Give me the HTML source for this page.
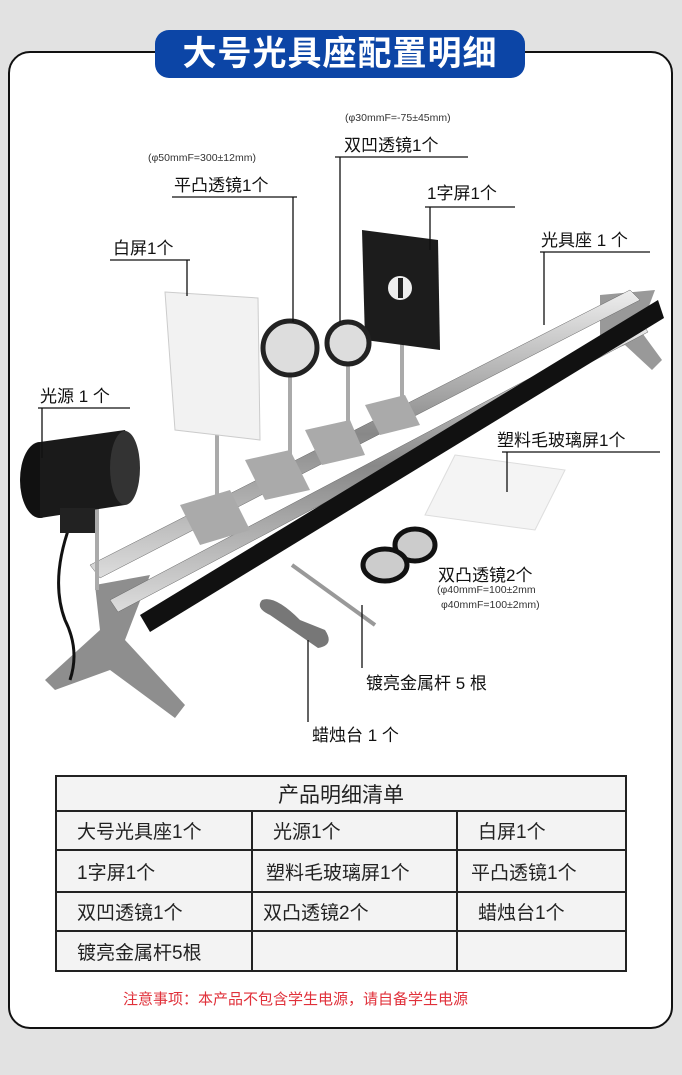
<!DOCTYPE html>
<html><head><meta charset="utf-8"><style>
body{margin:0;width:682px;height:1075px;background:#e2e2e2;position:relative;overflow:hidden;font-family:"Liberation Sans","Noto Sans CJK SC",sans-serif;}
.panel{position:absolute;left:8px;top:51px;width:661px;height:974px;background:#fff;border:2px solid #111;border-radius:22px;}
.title{position:absolute;left:155px;top:30px;width:370px;height:48px;background:#0c45a6;border-radius:14px;color:#fff;font-size:34px;font-weight:bold;text-align:center;line-height:48px;letter-spacing:1px;}
.l{position:absolute;font-size:17px;color:#111;white-space:nowrap;}
.s{position:absolute;font-size:10.5px;color:#333;white-space:nowrap;}
table{position:absolute;left:55px;top:775px;width:572px;border-collapse:collapse;font-size:19px;color:#222;}
td{border:2px solid #222;background:#f3f3f3;padding:0 0 0 20px;height:37px;}
.note{position:absolute;left:123px;top:988px;font-size:15px;color:#e0303a;}
</style></head><body>
<div class="panel"></div>
<svg width="682" height="1075" style="position:absolute;left:0;top:0">
<defs><linearGradient id="st" x1="0" y1="0" x2="0" y2="1"><stop offset="0" stop-color="#eee"/><stop offset=".5" stop-color="#888"/><stop offset="1" stop-color="#ddd"/></linearGradient></defs>
<path d="M95 585 L150 575 L125 640 L185 705 L175 718 L110 670 L55 690 L45 680 L100 630 Z" fill="#8e8e8e"/>
<path d="M600 295 L655 290 L640 330 L662 360 L652 370 L625 345 L600 355 Z" fill="#999"/>
<path d="M90 565 L630 290 L640 300 L100 578 Z" fill="url(#st)" stroke="#666" stroke-width=".5"/>
<path d="M110 600 L640 320 L648 332 L118 612 Z" fill="url(#st)" stroke="#666" stroke-width=".5"/>
<path d="M140 615 L658 300 L664 318 L150 632 Z" fill="#111"/>
<g fill="#aaa"><path d="M180 505 L230 490 L250 530 L200 545Z"/><path d="M245 460 L290 450 L310 490 L265 500Z"/><path d="M305 430 L350 420 L365 455 L322 465Z"/><path d="M365 405 L405 395 L420 425 L380 435Z"/></g>
<g stroke="#aaa" stroke-width="4"><line x1="217" y1="430" x2="217" y2="505"/><line x1="290" y1="372" x2="290" y2="460"/><line x1="348" y1="365" x2="348" y2="430"/><line x1="402" y1="340" x2="402" y2="400"/><line x1="97" y1="500" x2="97" y2="590"/></g>
<path d="M165 292 L258 298 L260 440 L175 430 Z" fill="#f2f2f2" stroke="#ccc"/>
<path d="M362 230 L438 240 L440 350 L365 340 Z" fill="#1c1c1c"/>
<circle cx="400" cy="288" r="12" fill="#eee"/><rect x="398" y="278" width="5" height="20" fill="#222"/>
<circle cx="290" cy="348" r="27" fill="#ddd" stroke="#222" stroke-width="5"/>
<circle cx="348" cy="343" r="21" fill="#ddd" stroke="#222" stroke-width="5"/>
<ellipse cx="40" cy="480" rx="20" ry="38" fill="#111"/>
<path d="M40 442 L125 430 Q145 470 125 505 L40 518Z" fill="#1a1a1a"/>
<ellipse cx="125" cy="468" rx="15" ry="37" fill="#333"/>
<path d="M70 525 Q50 580 65 620 Q80 650 70 680" stroke="#111" stroke-width="3" fill="none"/>
<rect x="60" y="508" width="35" height="25" fill="#222"/>
<path d="M455 455 L565 470 L535 530 L425 515Z" fill="#f4f4f4" stroke="#ddd"/>
<ellipse cx="415" cy="545" rx="20" ry="16" fill="#ccc" stroke="#111" stroke-width="5"/>
<ellipse cx="385" cy="565" rx="22" ry="16" fill="#ccc" stroke="#111" stroke-width="5"/>
<line x1="292" y1="565" x2="375" y2="625" stroke="#999" stroke-width="4"/>
<path d="M262 600 Q275 595 300 620 L325 630 Q335 645 318 648 L270 615 Q255 608 262 600Z" fill="#777"/>
<g stroke="#111" stroke-width="1.3" fill="none">
<path d="M335 157 H468 M340 157 V322"/>
<path d="M172 197 H297 M293 197 V322"/>
<path d="M425 207 H515 M430 207 V250"/>
<path d="M110 260 H190 M187 260 V296"/>
<path d="M540 252 H650 M544 252 V325"/>
<path d="M38 408 H130 M42 408 V458"/>
<path d="M502 452 H660 M507 452 V492"/>
<path d="M362 605 V668"/>
<path d="M308 640 V722"/>
</g>
</svg>
<div class="title">大号光具座配置明细</div>
<div class="s" style="left:345px;top:112px">(φ30mmF=-75±45mm)</div>
<div class="l" style="left:344px;top:131px">双凹透镜1个</div>
<div class="s" style="left:148px;top:152px">(φ50mmF=300±12mm)</div>
<div class="l" style="left:174px;top:171px">平凸透镜1个</div>
<div class="l" style="left:427px;top:179px">1字屏1个</div>
<div class="l" style="left:113px;top:234px">白屏1个</div>
<div class="l" style="left:541px;top:226px">光具座 1 个</div>
<div class="l" style="left:40px;top:382px">光源 1 个</div>
<div class="l" style="left:497px;top:426px">塑料毛玻璃屏1个</div>
<div class="l" style="left:438px;top:561px">双凸透镜2个</div>
<div class="s" style="left:437px;top:584px">(φ40mmF=100±2mm</div>
<div class="s" style="left:441px;top:599px">φ40mmF=100±2mm)</div>
<div class="l" style="left:366px;top:669px">镀亮金属杆 5 根</div>
<div class="l" style="left:312px;top:721px">蜡烛台 1 个</div>
<table>
<tr><td colspan="3" style="text-align:center;padding:0;font-size:21px;height:33px">产品明细清单</td></tr>
<tr><td style="width:174px">大号光具座1个</td><td style="width:183px">光源1个</td><td>白屏1个</td></tr>
<tr><td style="height:40px">1字屏1个</td><td style="padding-left:13px">塑料毛玻璃屏1个</td><td style="padding-left:13px">平凸透镜1个</td></tr>
<tr><td>双凹透镜1个</td><td style="padding-left:10px">双凸透镜2个</td><td>蜡烛台1个</td></tr>
<tr><td style="height:38px">镀亮金属杆5根</td><td></td><td></td></tr>
</table>
<div class="note">注意事项：本产品不包含学生电源，请自备学生电源</div>
</body></html>
